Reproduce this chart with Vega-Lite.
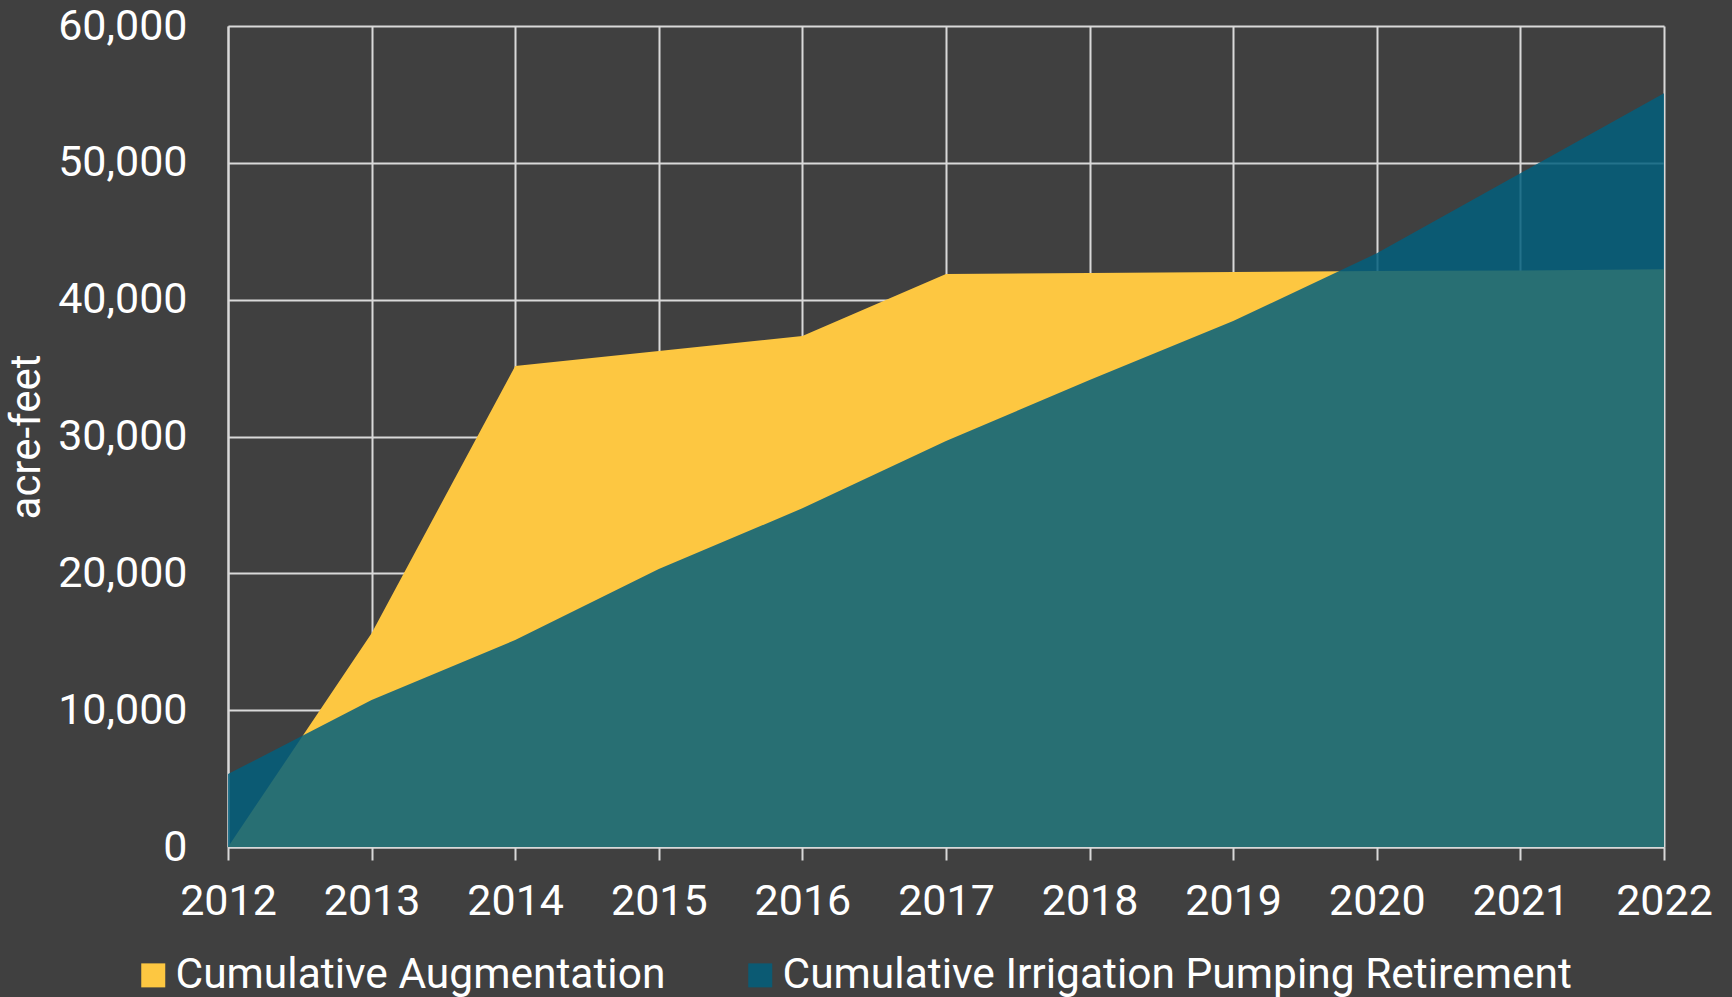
{
  "$schema": "https://vega.github.io/schema/vega-lite/v6.json",
  "autosize": {"type": "none"},
  "padding": {"left": 228, "top": 26, "right": 68, "bottom": 150},
  "width": 1436,
  "height": 821,
  "background": "#404040",
  "config": {
    "view": {"stroke": null},
    "font": "Roboto",
    "axis": {
      "labelFont": "Roboto",
      "titleFont": "Roboto",
      "labelColor": "#ffffff",
      "titleColor": "#ffffff",
      "labelFontSize": 43,
      "titleFontSize": 42,
      "titleFontWeight": "normal",
      "gridColor": "#d9d9d9",
      "gridWidth": 2,
      "gridOpacity": 1,
      "domainColor": "#d9d9d9",
      "domainWidth": 2,
      "tickColor": "#d9d9d9",
      "tickWidth": 2
    },
    "legend": {
      "labelFont": "Roboto",
      "labelFontSize": 42.5,
      "labelColor": "#ffffff",
      "labelLimit": 2000
    }
  },
  "data": {
    "values": [
      {"year": 2012, "series": "Cumulative Augmentation", "value": 0},
      {"year": 2013, "series": "Cumulative Augmentation", "value": 15620},
      {"year": 2014, "series": "Cumulative Augmentation", "value": 35150},
      {"year": 2015, "series": "Cumulative Augmentation", "value": 36250},
      {"year": 2016, "series": "Cumulative Augmentation", "value": 37350},
      {"year": 2017, "series": "Cumulative Augmentation", "value": 41880},
      {"year": 2018, "series": "Cumulative Augmentation", "value": 41950},
      {"year": 2019, "series": "Cumulative Augmentation", "value": 42020},
      {"year": 2020, "series": "Cumulative Augmentation", "value": 42090},
      {"year": 2021, "series": "Cumulative Augmentation", "value": 42130},
      {"year": 2022, "series": "Cumulative Augmentation", "value": 42220},
      {"year": 2012, "series": "Cumulative Irrigation Pumping Retirement", "value": 5330},
      {"year": 2013, "series": "Cumulative Irrigation Pumping Retirement", "value": 10740},
      {"year": 2014, "series": "Cumulative Irrigation Pumping Retirement", "value": 15130},
      {"year": 2015, "series": "Cumulative Irrigation Pumping Retirement", "value": 20320},
      {"year": 2016, "series": "Cumulative Irrigation Pumping Retirement", "value": 24750},
      {"year": 2017, "series": "Cumulative Irrigation Pumping Retirement", "value": 29670},
      {"year": 2018, "series": "Cumulative Irrigation Pumping Retirement", "value": 34130},
      {"year": 2019, "series": "Cumulative Irrigation Pumping Retirement", "value": 38440},
      {"year": 2020, "series": "Cumulative Irrigation Pumping Retirement", "value": 43390},
      {"year": 2021, "series": "Cumulative Irrigation Pumping Retirement", "value": 49240},
      {"year": 2022, "series": "Cumulative Irrigation Pumping Retirement", "value": 55080}
    ]
  },
  "mark": {"type": "area", "interpolate": "linear"},
  "encoding": {
    "x": {
      "field": "year",
      "type": "quantitative",
      "scale": {"domain": [2012, 2022], "nice": false, "zero": false},
      "axis": {
        "title": null,
        "values": [2012, 2013, 2014, 2015, 2016, 2017, 2018, 2019, 2020, 2021, 2022],
        "format": "d",
        "ticks": true,
        "tickSize": 13,
        "labelPadding": 20,
        "labelFlush": false,
        "labelOverlap": false,
        "grid": true
      }
    },
    "y": {
      "field": "value",
      "type": "quantitative",
      "stack": null,
      "scale": {"domain": [0, 60000], "nice": false},
      "axis": {
        "title": "acre-feet",
        "values": [0, 10000, 20000, 30000, 40000, 50000, 60000],
        "format": ",d",
        "ticks": false,
        "labelPadding": 41,
        "titlePadding": 9,
        "grid": true
      }
    },
    "color": {
      "field": "series",
      "type": "nominal",
      "scale": {
        "domain": ["Cumulative Augmentation", "Cumulative Irrigation Pumping Retirement"],
        "range": ["#fdc741", "#025f7d"]
      },
      "legend": {
        "title": null,
        "orient": "none",
        "direction": "horizontal",
        "legendX": -96,
        "legendY": 928,
        "symbolType": "square",
        "symbolSize": 576,
        "symbolStrokeWidth": 0,
        "labelOffset": 1,
        "columnPadding": 73,
        "padding": 0
      }
    },
    "opacity": {
      "field": "series",
      "type": "nominal",
      "scale": {
        "domain": ["Cumulative Augmentation", "Cumulative Irrigation Pumping Retirement"],
        "range": [1, 0.85]
      },
      "legend": null
    }
  }
}
